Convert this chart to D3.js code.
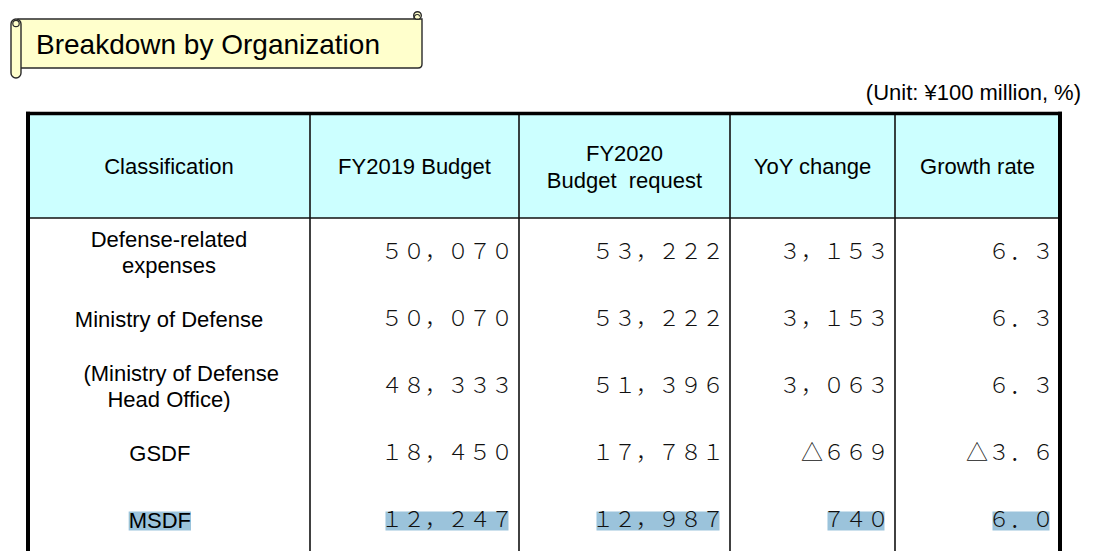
<!DOCTYPE html>
<html>
<head>
<meta charset="utf-8">
<script src="https://cdn.jsdelivr.net/npm/d3@7"></script>
<style>
  html, body { margin: 0; padding: 0; background: #fff; }
  svg { display: block; }
</style>
</head>
<body>
<svg id="chart" width="1095" height="551"></svg>
<script>
// ---- data ----
const title = "Breakdown by Organization";
const unitNote = "(Unit: ¥100 million, %)";
const headers = ["Classification", "FY2019 Budget", "FY2020\nBudget  request", "YoY change", "Growth rate"];
const categories = [
  "Defense-related\nexpenses",
  "Ministry of Defense",
  "\u00a0\u00a0\u00a0\u00a0(Ministry of Defense\nHead Office)",
  "GSDF\u00a0\u00a0\u00a0",
  "MSDF\u00a0\u00a0\u00a0"
];
const fy2019 = [50070, 50070, 48333, 18450, 12247];
const fy2020 = [53222, 53222, 51396, 17781, 12987];
const yoyChange = [3153, 3153, 3063, -669, 740];
const growthRate = [6.3, 6.3, 6.3, -3.6, 6.0];
const highlightedRow = 4;

// ---- helpers ----
const fmtInt = d3.format(",");
const fmtPct = d3.format(".1f");
function fullWidth(s) {
  return s.replace(/[0-9]/g, c => String.fromCharCode(c.charCodeAt(0) + 0xFEE0))
          .replace(/,/g, "\uFF0C").replace(/\./g, "\uFF0E")
          .replace(/[-\u2212]/g, "\u25B3");
}

const svg = d3.select("#chart");
const latin = "'Liberation Sans', Arial, sans-serif";
const cjk = "'Noto Sans CJK JP', 'Noto Sans CJK SC', sans-serif";

// ---- banner ----
const banner = svg.append("g");
banner.append("path")
  .attr("d", "M18,19 H422 V64 Q422,68 418,68 H18 Z")
  .attr("fill", "#ffffcc").attr("stroke", "#2a2a2a").attr("stroke-width", 1.4);
banner.append("circle").attr("cx", 417.5).attr("cy", 15.5).attr("r", 3.8)
  .attr("fill", "#ffffcc").attr("stroke", "#2a2a2a").attr("stroke-width", 1.4);
banner.append("path").attr("d", "M414,19 Q414,14.5 417.5,14.5 Q419.5,14.5 419.5,16.5")
  .attr("fill", "none").attr("stroke", "#2a2a2a").attr("stroke-width", 1.2);
banner.append("rect").attr("x", 11).attr("y", 19).attr("width", 10).attr("height", 59).attr("rx", 5)
  .attr("fill", "#ffffcc").attr("stroke", "#2a2a2a").attr("stroke-width", 1.4);
banner.append("circle").attr("cx", 16).attr("cy", 23.5).attr("r", 3.2)
  .attr("fill", "#ffffcc").attr("stroke", "#2a2a2a").attr("stroke-width", 1.2);
banner.append("text").attr("x", 36).attr("y", 54)
  .attr("font-family", latin).attr("font-size", 28).attr("fill", "#000").text(title);

// unit note
svg.append("text").attr("x", 1081).attr("y", 100).attr("text-anchor", "end")
  .attr("font-family", latin).attr("font-size", 22).attr("fill", "#000").text(unitNote);

// ---- table layout ----
const tableLeft = 28, tableRight = 1060, tableTop = 113.5, headerBottom = 218, rowH = 67;
const colEdges = [tableLeft, 310, 519, 730, 895, tableRight];
const colX = d3.scaleOrdinal().domain(d3.range(5)).range(colEdges.slice(0, 5));
const colR = d3.scaleOrdinal().domain(d3.range(5)).range(colEdges.slice(1));
const rowY = d3.scaleBand().domain(d3.range(categories.length))
  .range([headerBottom, headerBottom + rowH * categories.length]);

// header fill
svg.append("rect").attr("x", tableLeft).attr("y", tableTop)
  .attr("width", tableRight - tableLeft).attr("height", headerBottom - tableTop)
  .attr("fill", "#ccffff");

// highlight layer (filled later)
const hlLayer = svg.append("g");

// column lines
svg.append("g").selectAll("line").data(colEdges.slice(1, 5)).join("line")
  .attr("x1", d => d).attr("x2", d => d).attr("y1", tableTop).attr("y2", 551)
  .attr("stroke", "#111").attr("stroke-width", 1.6);
// header bottom line
svg.append("line").attr("x1", tableLeft).attr("x2", tableRight)
  .attr("y1", headerBottom).attr("y2", headerBottom)
  .attr("stroke", "#111").attr("stroke-width", 1.6);
// outer border
svg.append("line").attr("x1", tableLeft).attr("x2", tableLeft).attr("y1", 111.8).attr("y2", 551)
  .attr("stroke", "#000").attr("stroke-width", 4);
svg.append("line").attr("x1", tableRight).attr("x2", tableRight).attr("y1", 111.8).attr("y2", 551)
  .attr("stroke", "#000").attr("stroke-width", 4);
svg.append("line").attr("x1", tableLeft - 2).attr("x2", tableRight + 2).attr("y1", tableTop).attr("y2", tableTop)
  .attr("stroke", "#000").attr("stroke-width", 3.5);

// header text
const headerCenter = 166;
svg.append("g").selectAll("text").data(headers).join("text")
  .attr("font-family", latin).attr("font-size", 22).attr("fill", "#000")
  .attr("text-anchor", "middle")
  .each(function(d, i) {
    const lines = d.split("\n");
    const cx = (colX(i) + colR(i)) / 2;
    const first = headerCenter + 8 - (lines.length - 1) * 13.5;
    d3.select(this).selectAll("tspan").data(lines).join("tspan")
      .attr("x", cx).attr("y", (l, j) => first + j * 27)
      .style("white-space", "pre").text(l => l);
  });

// body rows
const rows = categories.map((c, i) => ({
  i, label: c,
  cells: [fullWidth(fmtInt(fy2019[i])), fullWidth(fmtInt(fy2020[i])),
          fullWidth(fmtInt(yoyChange[i])), fullWidth(fmtPct(growthRate[i]))]
}));

const rowG = svg.append("g").selectAll("g").data(rows).join("g");

rowG.append("text")
  .attr("class", "label")
  .attr("font-family", latin).attr("font-size", 22).attr("fill", "#000")
  .attr("text-anchor", "middle")
  .each(function(d) {
    const lines = d.label.split("\n");
    const cy = rowY(d.i) + rowY.bandwidth() / 2;
    const first = cy + 8 - (lines.length - 1) * 13;
    d3.select(this).selectAll("tspan").data(lines).join("tspan")
      .attr("x", (colX(0) + colR(0)) / 2).attr("y", (l, j) => first + j * 26)
      .text(l => l);
  });

rowG.each(function(d) {
  const cy = rowY(d.i) + rowY.bandwidth() / 2;
  d3.select(this).selectAll("text.num").data(d.cells).join("text")
    .attr("class", "num")
    .attr("font-family", cjk).attr("font-size", 22).attr("font-weight", 300)
    .attr("fill", "#111").attr("text-anchor", "end")
    .attr("x", (v, k) => colR(k + 1) - 6)
    .attr("y", cy + 7.5)
    .text(v => v);
});

// highlight (selection-style) on one row
rowG.filter(d => d.i === highlightedRow).each(function(d) {
  const cy = rowY(d.i) + rowY.bandwidth() / 2;
  d3.select(this).selectAll("text").each(function() {
    const el = this;
    const isNum = el.classList.contains("num");
    const str = el.textContent;
    let x0 = Infinity, x1 = -Infinity;
    for (let k = 0; k < str.length; k++) {
      if (/\s|\u00a0/.test(str[k])) continue;
      const e = el.getExtentOfChar(k);
      x0 = Math.min(x0, e.x); x1 = Math.max(x1, e.x + e.width);
    }
    const inset = isNum ? 4.5 : 0;
    hlLayer.append("rect").attr("x", x0 + inset).attr("y", cy - 8)
      .attr("width", x1 - x0 - 2 * inset).attr("height", 19)
      .attr("fill", "#9bc3db");
  });
});
</script>
</body>
</html>
